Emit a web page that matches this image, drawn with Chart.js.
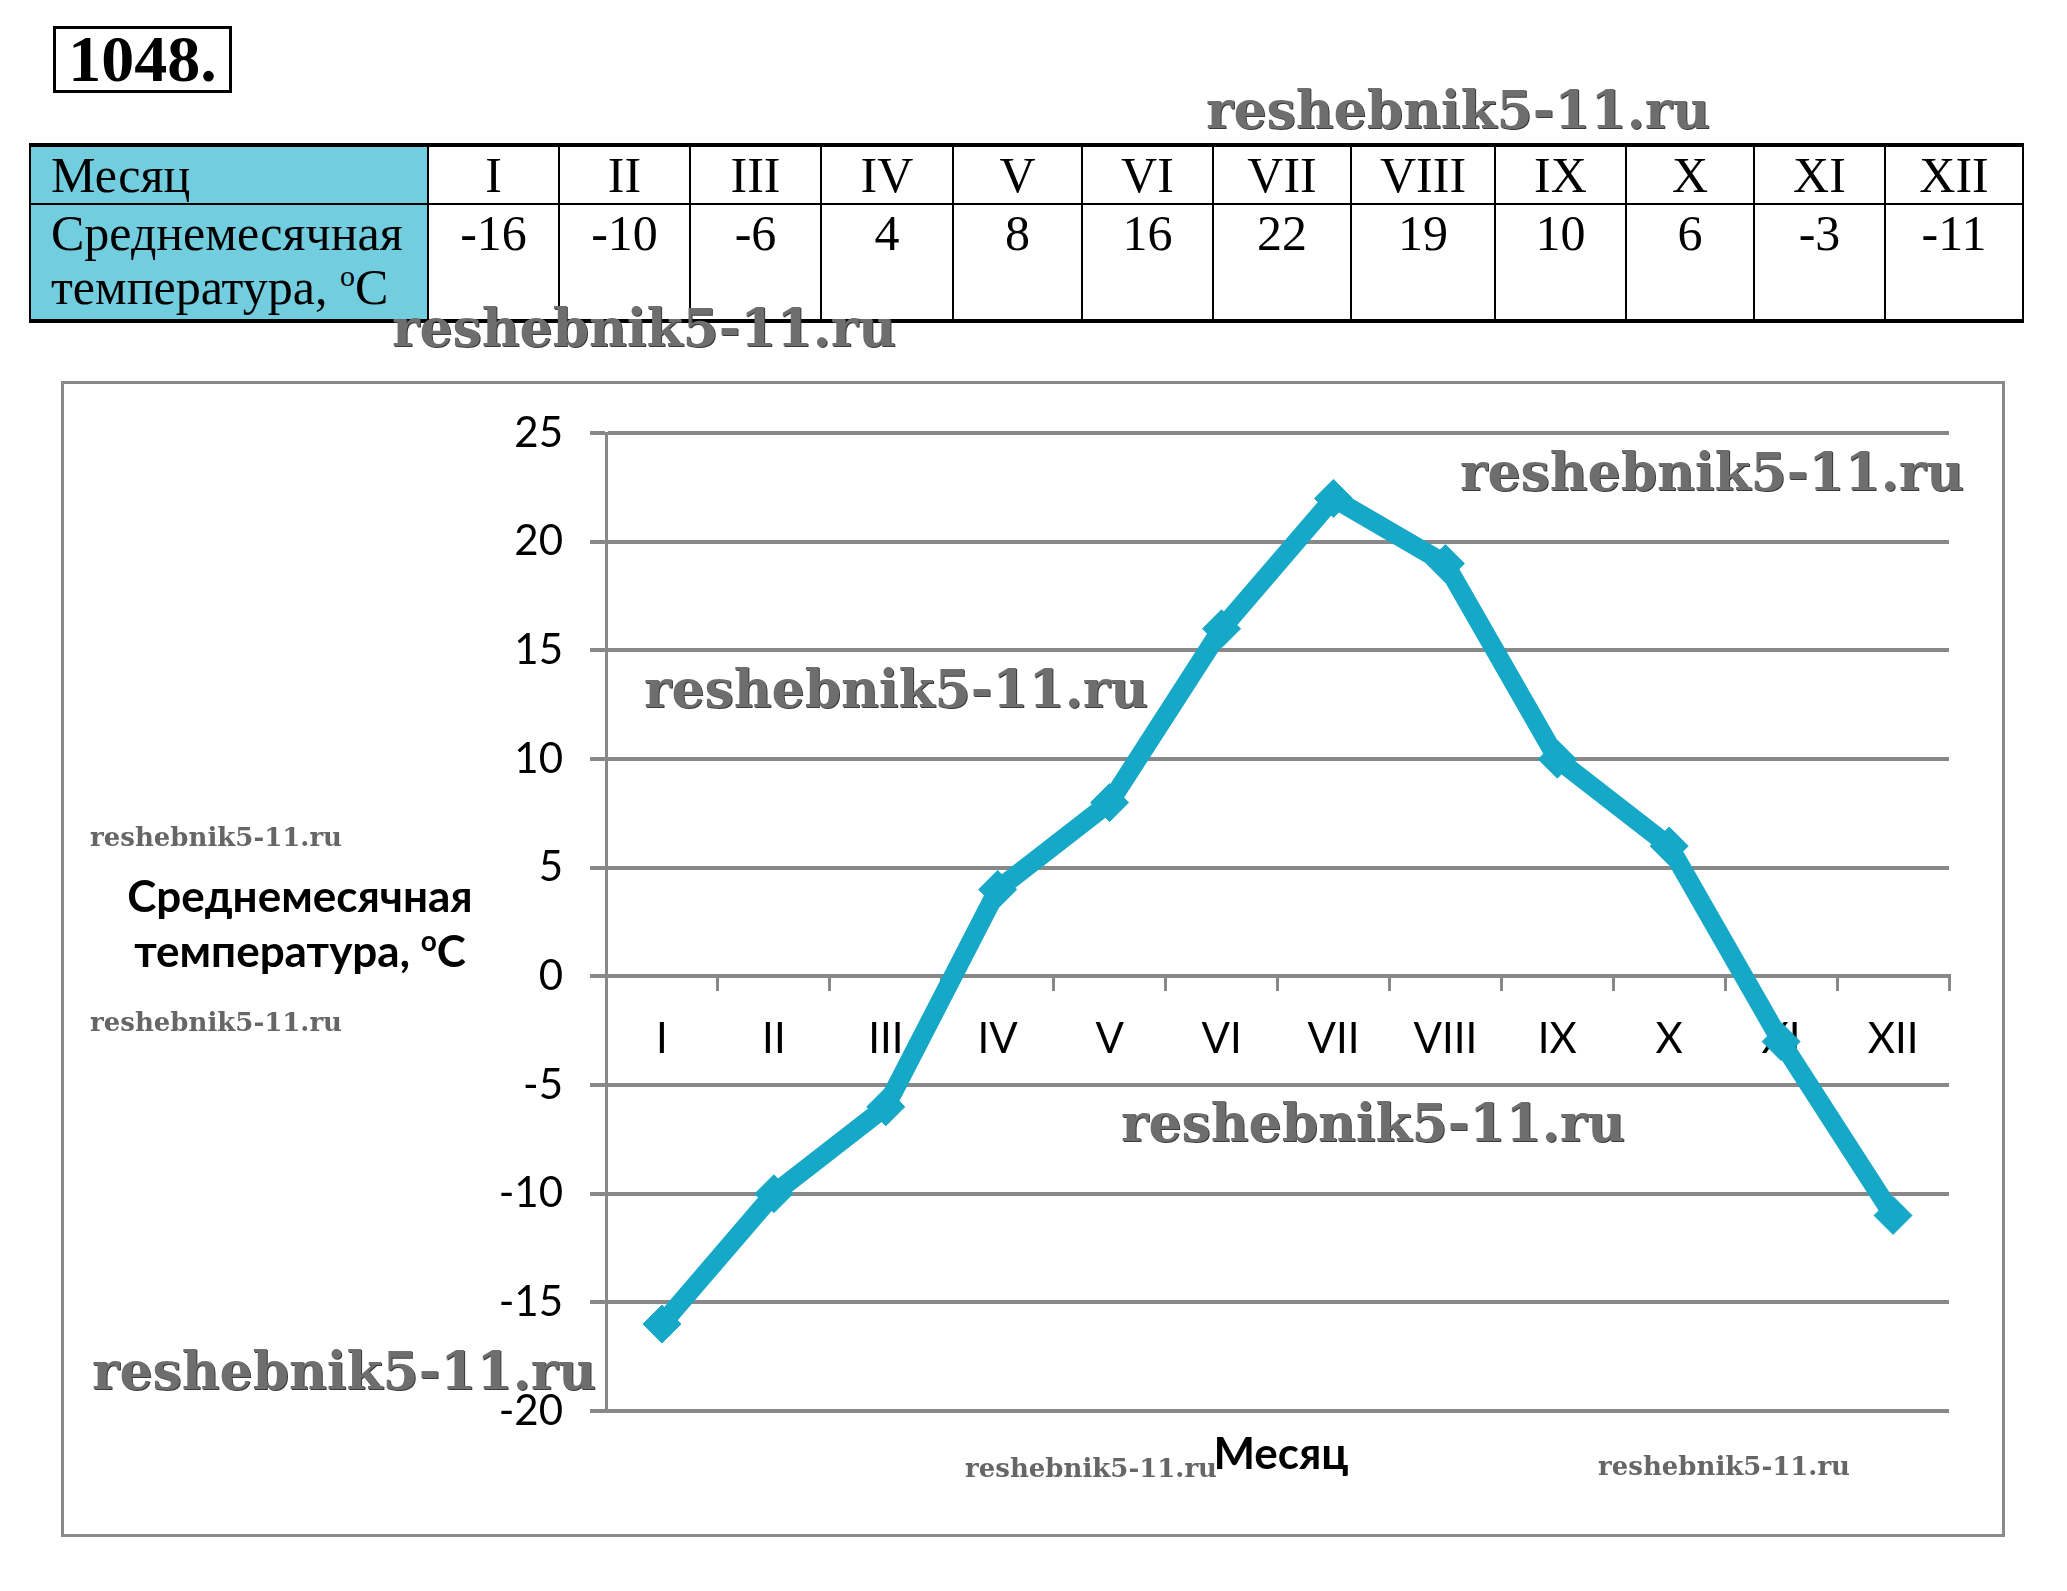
<!DOCTYPE html>
<html>
<head>
<meta charset="utf-8">
<script src="https://cdn.jsdelivr.net/npm/chart.js@4"></script>
<style>
  body { margin: 0; background: #fff; width: 2067px; height: 1591px; position: relative; overflow: hidden; }
  #num { position: absolute; left: 53px; top: 26px; width: 179px; height: 67px; box-sizing: border-box;
         border: 3px solid #000; font: bold 66px "Liberation Serif", serif; line-height: 60px; text-align: center; }
  #tbl { position: absolute; left: 29px; top: 143px; border-collapse: collapse;
         font: 50px "Liberation Serif", serif; table-layout: fixed; }
  #tbl td { border: 2px solid #000; padding: 0; text-align: center; vertical-align: top; line-height: 54px; }
  #tbl tr:first-child td { height: 54px; border-top-width: 4px; line-height: 56px; }
  #tbl tr:last-child td { height: 113px; border-bottom-width: 4px; }
  #tbl td.head { background: #72cedf; text-align: left; padding-left: 20px; white-space: nowrap; }
  #tbl sup { font-size: 30px; line-height: 0; }
  #frame { position: absolute; left: 61px; top: 381px; width: 1944px; height: 1156px; box-sizing: border-box; border: 3px solid #8a8a8a; }
  #chart { position: absolute; left: 61px; top: 381px; }
  .ttl { position: absolute; font: bold 44px Lato, sans-serif; color: #000; text-align: center; line-height: 55px; }
  .ttl sup { font-size: 28px; line-height: 0; }
  .wm { position: absolute; font-family: "DejaVu Serif", serif; font-weight: bold; color: #6e6e6e;
        text-shadow: 1px 1px 0 #3a3a3a; white-space: nowrap; }
  .wm.big { font-size: 52px; }
  .wm.small { font-size: 26px; text-shadow: none; color: #666; }
</style>
</head>
<body>
<div id="num">1048.</div>
<table id="tbl"></table>
<div id="frame"></div>
<canvas id="chart" width="1944" height="1156"></canvas>
<div class="ttl" style="left:90px; top:868px; width:420px;">Среднемесячная<br>температура, <sup>o</sup>C</div>
<div class="ttl" style="left:1196px; top:1425px; width:170px;">Месяц</div>

<div class="wm big" style="left:1206px; top:79px;">reshebnik5-11.ru</div>
<div class="wm big" style="left:392px; top:297px;">reshebnik5-11.ru</div>
<div class="wm big" style="left:1460px; top:441px;">reshebnik5-11.ru</div>
<div class="wm big" style="left:644px; top:658px;">reshebnik5-11.ru</div>
<div class="wm big" style="left:1121px; top:1092px;">reshebnik5-11.ru</div>
<div class="wm big" style="left:92px; top:1340px;">reshebnik5-11.ru</div>
<div class="wm small" style="left:90px; top:822px;">reshebnik5-11.ru</div>
<div class="wm small" style="left:90px; top:1007px;">reshebnik5-11.ru</div>
<div class="wm small" style="left:965px; top:1453px;">reshebnik5-11.ru</div>
<div class="wm small" style="left:1598px; top:1451px;">reshebnik5-11.ru</div>

<script>
const months = ['I', 'II', 'III', 'IV', 'V', 'VI', 'VII', 'VIII', 'IX', 'X', 'XI', 'XII'];
const temps = [-16, -10, -6, 4, 8, 16, 22, 19, 10, 6, -3, -11];
const rowHeads = ['Месяц', 'Среднемесячная<br>температура, <sup>o</sup>C'];
const colWidths = [398, 131, 131, 131, 132, 129, 131, 138, 144, 131, 128, 131, 138];
const Y_MIN = -20, Y_MAX = 25, Y_STEP = 5;

// table above the chart
const tbl = document.getElementById('tbl');
let html = '<colgroup>' + colWidths.map(w => '<col style="width:' + w + 'px">').join('') + '</colgroup>';
html += '<tr><td class="head">' + rowHeads[0] + '</td>' + months.map(m => '<td>' + m + '</td>').join('') + '</tr>';
html += '<tr><td class="head" style="padding-top:1px">' + rowHeads[1] + '</td>' +
        temps.map(t => '<td style="padding-top:1px">' + t + '</td>').join('') + '</tr>';
tbl.innerHTML = html;

const GRID = '#888888';
const LINE = '#16a8c7';

new Chart(document.getElementById('chart'), {
    type: 'line',
    data: {
        labels: months,
        datasets: [{
            data: temps,
            borderColor: LINE,
            borderWidth: 19,
            tension: 0,
            pointStyle: 'rectRot',
            pointRadius: 19,
            pointBackgroundColor: LINE,
            pointBorderColor: LINE,
            pointBorderWidth: 1,
            clip: false
        }]
    },
    options: {
        animation: false, responsive: false, maintainAspectRatio: false, devicePixelRatio: 1,
        layout: { padding: { left: 405, top: 51, right: 56, bottom: 126 } },
        plugins: { legend: { display: false }, tooltip: { enabled: false } },
        scales: {
            x: {
                type: 'category',
                position: { y: 0 },
                offset: true,
                grid: { display: true, drawOnChartArea: false, offset: true, tickLength: 13, color: GRID, lineWidth: 3 },
                border: { display: true, color: GRID, width: 4 },
                ticks: { color: '#000', padding: 25, font: { family: 'Lato', size: 42 }, maxRotation: 0, autoSkip: false }
            },
            y: {
                min: Y_MIN, max: Y_MAX,
                afterFit: s => { s.width = 140; },
                grid: { color: GRID, lineWidth: 4, tickLength: 16 },
                border: { display: true, color: GRID, width: 3 },
                ticks: { stepSize: Y_STEP, color: '#000', padding: 27, font: { family: 'Lato', size: 42 } }
            }
        }
    }
});
</script>
</body>
</html>
